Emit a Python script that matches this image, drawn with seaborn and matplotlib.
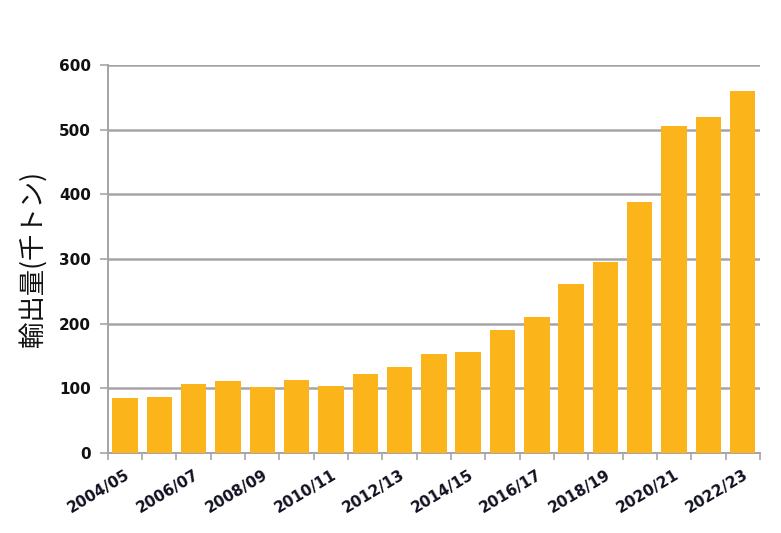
import matplotlib
matplotlib.use("Agg")
import matplotlib.pyplot as plt
import pandas as pd
import seaborn as sns

seasons = [
    "2004/05", "2005/06", "2006/07", "2007/08", "2008/09", "2009/10",
    "2010/11", "2011/12", "2012/13", "2013/14", "2014/15", "2015/16",
    "2016/17", "2017/18", "2018/19", "2019/20", "2020/21", "2021/22",
    "2022/23",
]
exports = [85, 86, 106, 112, 102, 113, 104, 122, 133, 153, 157, 190,
           210, 261, 296, 388, 506, 519, 560]
y_ticks = [0, 100, 200, 300, 400, 500, 600]

sns.set_theme(style="white")
plt.rcParams["font.family"] = ["DejaVu Sans", "Noto Sans CJK JP"]

df = pd.DataFrame({"season": seasons, "exports": exports})

fig = plt.figure(figsize=(7.81, 5.33), dpi=100)
ax = fig.add_axes([0.138, 0.150, 0.835, 0.728])

sns.barplot(data=df, x="season", y="exports", color="#FBB41A",
            saturation=1, width=0.74, linewidth=0, ax=ax, zorder=3)

ax.set_ylim(0, 600)
ax.set_xlim(-0.5, len(seasons) - 0.5)
ax.set_yticks(y_ticks)
ax.set_yticklabels([str(v) for v in y_ticks], fontsize=11, fontweight="bold",
                   color="#111111")
ax.yaxis.grid(True, color="#a6a4a8", linewidth=1.8, zorder=0)
ax.set_axisbelow(True)

# labels on every other season, tick marks between the bars
ax.set_xticks(range(0, len(seasons), 2))
ax.set_xticklabels(seasons[::2], rotation=31, ha="right", rotation_mode="anchor",
                   fontsize=11, fontweight="bold", color="#111122")
ax.set_xticks([i - 0.5 for i in range(len(seasons) + 1)], minor=True)
ax.tick_params(axis="x", which="major", length=0, pad=10)
ax.tick_params(axis="x", which="minor", length=5, width=1.2, color="#a6a4a8",
               direction="out", bottom=True)
ax.tick_params(axis="y", length=6, width=1.2, color="#a6a4a8", left=True, pad=6)

for side in ["top", "right"]:
    ax.spines[side].set_visible(False)
for side in ["left", "bottom"]:
    ax.spines[side].set_color("#a6a4a8")
    ax.spines[side].set_linewidth(1.4)

ax.set_xlabel("")
ax.set_ylabel("輸出量(千トン)", fontsize=19, family=["Noto Sans CJK JP"],
              color="#111111", labelpad=9)

fig.savefig("out.png", dpi=100)
plt.close(fig)
